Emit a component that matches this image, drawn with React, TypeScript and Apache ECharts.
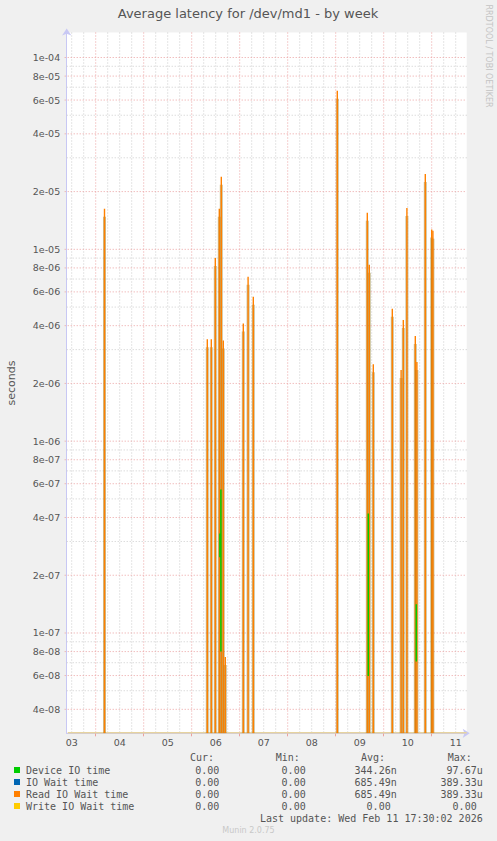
import { useEffect, useRef } from "react";
import * as echarts from "echarts";

// hours counted from Feb 03 00:00
const dayLabels = ["03", "04", "05", "06", "07", "08", "09", "10", "11"];
const dayNoonHours = [12, 36, 60, 84, 108, 132, 156, 180, 204];

const yTickValues = [
  1e-4, 8e-5, 6e-5, 4e-5, 2e-5, 1e-5, 8e-6, 6e-6, 4e-6, 2e-6, 1e-6, 8e-7, 6e-7,
  4e-7, 2e-7, 1e-7, 8e-8, 6e-8, 4e-8,
];
const yTickLabels = [
  "1e-04", "8e-05", "6e-05", "4e-05", "2e-05", "1e-05", "8e-06", "6e-06",
  "4e-06", "2e-06", "1e-06", "8e-07", "6e-07", "4e-07", "2e-07", "1e-07",
  "8e-08", "6e-08", "4e-08",
];
const yMinorValues = [
  9e-5, 7e-5, 5e-5, 3e-5, 9e-6, 7e-6, 5e-6, 3e-6, 9e-7, 7e-7, 5e-7, 3e-7, 9e-8,
  7e-8, 5e-8,
];

// Read IO Wait time (covers IO Wait time, same values)
const readSpikes: [number, number][] = [
  [28.4, 1.63e-5],
  [79.8, 3.4e-6],
  [81.8, 3.4e-6],
  [83.8, 9.0e-6],
  [85.8, 1.63e-5],
  [86.8, 2.39e-5],
  [87.8, 3.35e-6],
  [88.8, 7.5e-8],
  [97.8, 4.1e-6],
  [100.2, 7.2e-6],
  [102.8, 5.66e-6],
  [144.8, 6.7e-5],
  [159.8, 1.55e-5],
  [160.8, 8.3e-6],
  [162.8, 2.52e-6],
  [172.3, 4.9e-6],
  [176.7, 2.35e-6],
  [177.8, 4.28e-6],
  [179.6, 1.64e-5],
  [183.8, 3.53e-6],
  [184.6, 2.59e-6],
  [188.8, 2.47e-5],
  [192.0, 1.27e-5],
  [192.6, 1.25e-5],
];

// Device IO time, parts visible between the wait spikes
const deviceSegments: [number, number, number][] = [
  [86.1, 3.3e-7, 2.48e-7],
  [86.6, 5.6e-7, 8.0e-8],
  [160.3, 4.2e-7, 5.96e-8],
  [184.3, 1.41e-7, 7.1e-8],
];

const legendNames = ["Device IO time", "IO Wait time", "Read IO Wait time", "Write IO Wait time"];
const legendColors = ["#00CC00", "#0066B3", "#FF8000", "#FFCC00"];
const curValues = ["0.00", "0.00", "0.00", "0.00"];
const minValues = ["0.00", "0.00", "0.00", "0.00"];
const avgValues = ["344.26n", "685.49n", "685.49n", "0.00"];
const maxValues = ["97.67u", "389.33u", "389.33u", "0.00"];

const X_MIN = 9.5;
const X_MAX = 209.5;
const Y_MIN = 3e-8;
const Y_MAX = 1.35e-4;

const MONO = "10px 'DejaVu Sans Mono', monospace";
const TEXT = "#555555";
const GRID_GRAY = "#cccccc";
const GRID_RED = "#eba0a0";
const DOTS = [1, 2];

const App = () => {
  const chartRef = useRef<HTMLDivElement | null>(null);

  useEffect(() => {
    if (!chartRef.current) {
      return;
    }
    const chart = echarts.init(chartRef.current, undefined, { renderer: "svg" });

    const vGrid: [number, number][] = [];
    for (let h = 12; h <= 204; h += 6) {
      vGrid.push([h, 1e-6]);
    }

    const legendGraphics: any[] = [];
    const colEnds = [225.3, 311.7, 396.7, 482.7];
    const headerX = [190, 275.7, 361, 447.7];
    const txt = (x: number, y: number, text: string, align: string, font = MONO, fill = TEXT) => ({
      type: "text",
      x,
      y,
      style: { text, font, fill, align, textAlign: align, verticalAlign: "middle", textVerticalAlign: "middle" },
    });
    ["Cur:", "Min:", "Avg:", "Max:"].forEach((t, i) => {
      legendGraphics.push(txt(headerX[i], 757.5, t, "left"));
    });
    legendNames.forEach((name, i) => {
      const y = 770 + i * 12;
      legendGraphics.push({
        type: "rect",
        shape: { x: 14, y: y - 3, width: 6, height: 6 },
        style: { fill: legendColors[i] },
      });
      legendGraphics.push(txt(26, y, name, "left"));
      [curValues[i], minValues[i], avgValues[i], maxValues[i]].forEach((val, c) => {
        const hasUnit = /[a-z]$/i.test(val);
        legendGraphics.push(txt(colEnds[c] - (hasUnit ? 0 : 6.02), y, val, "right"));
      });
    });

    const hLine = (params: any, api: any, color: string, label?: string) => {
      const p = api.coord([X_MIN, api.value(1)]);
      const cs = params.coordSys;
      const children: any[] = [
        {
          type: "line",
          shape: { x1: cs.x - (label ? 2 : 0), y1: p[1], x2: cs.x + cs.width, y2: p[1] },
          style: { stroke: color, lineWidth: 1, lineDash: DOTS },
        },
      ];
      if (label) {
        children.push({
          type: "text",
          x: cs.x - 6.5,
          y: p[1],
          style: {
            text: label,
            font: "9.5px 'DejaVu Sans'",
            fill: TEXT,
            align: "right",
            textAlign: "right",
            verticalAlign: "middle",
            textVerticalAlign: "middle",
          },
        });
      }
      return { type: "group", children };
    };

    const option: any = {
      animation: false,
      backgroundColor: "#F0F0F0",
      grid: {
        left: 66.7,
        top: 32.5,
        width: 400,
        height: 700.8,
        show: true,
        backgroundColor: "#FFFFFF",
        borderWidth: 0,
      },
      xAxis: {
        type: "value",
        min: X_MIN,
        max: X_MAX,
        axisLine: {
          show: true,
          lineStyle: { color: "#c8c8f4", width: 1 },
          symbol: ["none", "arrow"],
          symbolSize: [7, 7],
          symbolOffset: [0, 3],
        },
        axisTick: {
          show: true,
          customValues: [24, 48, 72, 96, 120, 144, 168, 192],
          length: 3,
          lineStyle: { color: GRID_RED },
        },
        axisLabel: {
          customValues: dayNoonHours,
          formatter: (v: number) => dayLabels[dayNoonHours.indexOf(Math.round(v))] ?? "",
          color: TEXT,
          fontSize: 9.5,
          fontFamily: "DejaVu Sans",
          margin: 4,
        },
        splitLine: { show: false },
      },
      yAxis: {
        type: "log",
        logBase: 10,
        min: Y_MIN,
        max: Y_MAX,
        axisLine: {
          show: true,
          lineStyle: { color: "#c8c8f4", width: 1 },
          symbol: ["none", "arrow"],
          symbolSize: [7, 7],
          symbolOffset: [0, 4],
        },
        axisTick: { show: false },
        axisLabel: { show: false },
        splitLine: { show: false },
        minorSplitLine: { show: false },
      },
      graphic: [
        txt(248, 13, "Average latency for /dev/md1 - by week", "center", "13px 'DejaVu Sans'"),
        { ...txt(11, 383, "seconds", "center", "11px 'DejaVu Sans'"), rotation: Math.PI / 2 },
        { ...txt(488, 56, "RRDTOOL / TOBI OETIKER", "center", "8px 'DejaVu Sans'", "#c4c4c4"), rotation: -Math.PI / 2 },
        ...legendGraphics,
        txt(482.7, 818, "Last update: Wed Feb 11 17:30:02 2026", "right"),
        txt(248.5, 830, "Munin 2.0.75", "center", "8px 'DejaVu Sans'", "#c8c8c8"),
      ],
      series: [
        {
          type: "custom",
          name: "vgrid",
          z: 1,
          silent: true,
          clip: false,
          data: vGrid,
          encode: { x: 0, y: 1 },
          renderItem: (params: any, api: any) => {
            const h = api.value(0);
            const p = api.coord([h, api.value(1)]);
            const cs = params.coordSys;
            return {
              type: "line",
              shape: { x1: p[0], y1: cs.y, x2: p[0], y2: cs.y + cs.height },
              style: { stroke: h % 24 === 0 ? GRID_RED : GRID_GRAY, lineWidth: 1, lineDash: DOTS },
            };
          },
        },
        {
          type: "custom",
          name: "hgrid-minor",
          z: 1,
          silent: true,
          clip: false,
          data: yMinorValues.map((v) => [X_MIN, v]),
          encode: { x: 0, y: 1 },
          renderItem: (params: any, api: any) => hLine(params, api, GRID_GRAY),
        },
        {
          type: "custom",
          name: "hgrid-major",
          z: 1,
          silent: true,
          clip: false,
          data: yTickValues.map((v) => [X_MIN, v]),
          encode: { x: 0, y: 1 },
          renderItem: (params: any, api: any) =>
            hLine(params, api, GRID_RED, yTickLabels[params.dataIndex]),
        },
        {
          type: "custom",
          name: "Write IO Wait time",
          z: 2,
          silent: true,
          clip: false,
          data: [[X_MIN, Y_MIN]],
          encode: { x: 0, y: 1 },
          renderItem: (params: any, api: any) => {
            const p = api.coord([X_MIN, Y_MIN]);
            const cs = params.coordSys;
            return {
              type: "line",
              shape: { x1: cs.x + 1, y1: p[1] - 0.5, x2: cs.x + cs.width, y2: p[1] - 0.5 },
              style: { stroke: "#e6d39f", lineWidth: 1.5 },
            };
          },
        },
        {
          type: "custom",
          name: "Read IO Wait time",
          z: 3,
          clip: true,
          data: readSpikes,
          encode: { x: 0, y: 1 },
          renderItem: (params: any, api: any) => {
            const top = api.coord([api.value(0), api.value(1)]);
            const bottom = params.coordSys.y + params.coordSys.height;
            return {
              type: "group",
              children: [
                {
                  type: "rect",
                  shape: { x: top[0] - 1.5, y: top[1] + 8, width: 3, height: Math.max(0, bottom - top[1] - 8) },
                  style: { fill: "rgba(150,128,45,0.5)" },
                },
                {
                  type: "line",
                  shape: { x1: top[0], y1: bottom, x2: top[0], y2: top[1] },
                  style: { stroke: "#FF8000", lineWidth: 1.4 },
                },
              ],
            };
          },
        },
        {
          type: "custom",
          name: "Device IO time",
          z: 4,
          clip: true,
          data: deviceSegments,
          encode: { x: 0, y: [1, 2] },
          renderItem: (_params: any, api: any) => {
            const a = api.coord([api.value(0), api.value(1)]);
            const b = api.coord([api.value(0), api.value(2)]);
            return {
              type: "line",
              shape: { x1: a[0], y1: a[1], x2: b[0], y2: b[1] },
              style: { stroke: "#00CC00", lineWidth: 1.5 },
            };
          },
        },
      ],
    };

    chart.setOption(option);

    return () => {
      chart.dispose();
    };
  }, []);

  return (
    <div
      ref={chartRef}
      style={{ position: "absolute", left: 0, top: 0, width: 497, height: 841, background: "#F0F0F0" }}
    />
  );
};

export default App;
